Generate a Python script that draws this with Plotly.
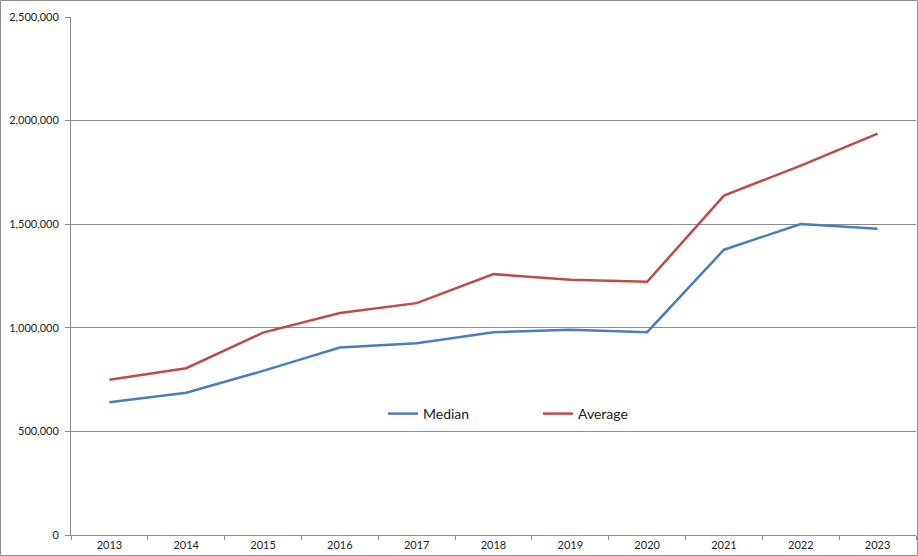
import plotly.graph_objects as go

years = ["2013", "2014", "2015", "2016", "2017", "2018", "2019", "2020", "2021", "2022", "2023"]
median = [641000, 687000, 792000, 905000, 926000, 979000, 990000, 979000, 1377000, 1501000, 1478000]
average = [749000, 805000, 977000, 1071000, 1119000, 1259000, 1232000, 1222000, 1638000, 1783000, 1937000]
y_ticks = [0, 500000, 1000000, 1500000, 2000000, 2500000]
y_labels = ["0", "500,000", "1,000,000", "1,500,000", "2,000,000", "2,500,000"]

W, H = 918, 556
L, R, T, B = 71, 2, 17, 21
pw, ph = W - L - R, H - T - B

fig = go.Figure()
fig.add_trace(go.Scatter(x=years, y=median, name="Median", mode="lines",
                         line=dict(color="#4A7EBB", width=2.5)))
fig.add_trace(go.Scatter(x=years, y=average, name="Average", mode="lines",
                         line=dict(color="#BE4B48", width=2.5)))

grid = "#8C8C8C"
fig.update_layout(
    width=W, height=H,
    margin=dict(l=L, r=R, t=T, b=B, pad=0, autoexpand=False),
    paper_bgcolor="white", plot_bgcolor="white",
    font=dict(family="Lato, 'Open Sans', sans-serif", color="#222222", size=11),
    showlegend=True,
    legend=dict(orientation="h", x=(538 - L) / pw, xanchor="center",
                y=(535 - 414) / ph, yanchor="middle",
                font=dict(size=14), bgcolor="rgba(0,0,0,0)",
                entrywidth=110, itemwidth=30, tracegroupgap=0),
    xaxis=dict(type="category", tickson="boundaries", ticks="outside", ticklen=4,
               tickcolor=grid, showline=True, linecolor=grid, linewidth=1,
               showgrid=False, tickfont=dict(size=11), range=[-0.5, 10.5],
               automargin=False),
    yaxis=dict(range=[0, 2500000], tickvals=y_ticks, ticktext=y_labels,
               showgrid=True, gridcolor=grid, gridwidth=1,
               showline=True, linecolor=grid, linewidth=1,
               ticks="outside", ticklen=5, tickcolor=grid, zeroline=False,
               tickfont=dict(size=11), ticklabelstandoff=4, automargin=False),
    shapes=[dict(type="rect", xref="paper", yref="paper",
                 x0=(0.5 - L) / pw, x1=(917.5 - L) / pw,
                 y0=(535 - 555.5) / ph, y1=(535 - 0.5) / ph,
                 line=dict(color="#8C8C8C", width=1), layer="below")],
)

fig.write_html("out.html",
               config={"displayModeBar": False},
               post_script="document.body.style.margin='0';document.body.style.overflow='hidden';")
